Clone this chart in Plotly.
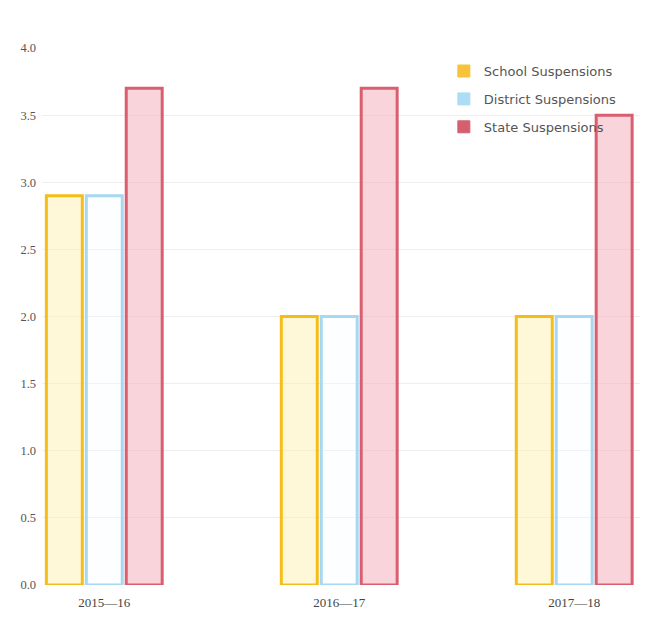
import plotly.graph_objects as go

years = ["2015\u201416", "2016\u201417", "2017\u201418"]
school = [2.9, 2.0, 2.0]
district = [2.9, 2.0, 2.0]
state = [3.7, 3.7, 3.5]

series = [
    ("School Suspensions", school, "rgba(253,240,170,0.45)", "#f4bd1a", "#f8c23a"),
    ("District Suspensions", district, "rgba(245,251,255,0.3)", "#a6d8f2", "#acdcf6"),
    ("State Suspensions", state, "rgba(244,170,182,0.5)", "#d95f70", "#d4606f"),
]

fig = go.Figure()
for i, (name, vals, fill, edge, solid) in enumerate(series):
    fig.add_trace(go.Bar(
        x=years, y=vals, name=name, showlegend=False, offsetgroup=str(i),
        marker=dict(color=fill, line=dict(color=edge, width=3)),
        hoverinfo="y",
    ))
# solid swatches for the legend
for i, (name, vals, fill, edge, solid) in enumerate(series):
    fig.add_trace(go.Bar(
        x=[years[0]], y=[None], name=name, legendgroup=name, offsetgroup=str(i),
        marker=dict(color=solid, line=dict(color=solid, width=1)),
        hoverinfo="skip",
    ))

fig.update_layout(
    width=667, height=644,
    margin=dict(l=42, r=27, t=48, b=59),
    paper_bgcolor="white", plot_bgcolor="white",
    barmode="group", bargap=0.49, bargroupgap=0.1,
    legend=dict(
        x=0.672, y=0.985, xanchor="left", yanchor="top",
        font=dict(family="DejaVu Sans", size=13, color="#555555"),
        bgcolor="rgba(255,255,255,0)", tracegroupgap=8,
    ),
    xaxis=dict(
        range=[-0.265, 2.28], showgrid=False, showline=False, zeroline=False,
        ticks="", ticklabelstandoff=8,
        tickfont=dict(family="Liberation Serif", size=13, color="#444444"),
    ),
    yaxis=dict(
        range=[0, 4], dtick=0.5, tickformat=".1f",
        showgrid=True, gridcolor="rgba(200,200,200,0.3)", gridwidth=1,
        zeroline=False, showline=False, ticks="", ticklabelstandoff=5,
        tickfont=dict(family="Liberation Serif", size=12.5, color="#555555"),
    ),
)

fig.write_html("out.html")
